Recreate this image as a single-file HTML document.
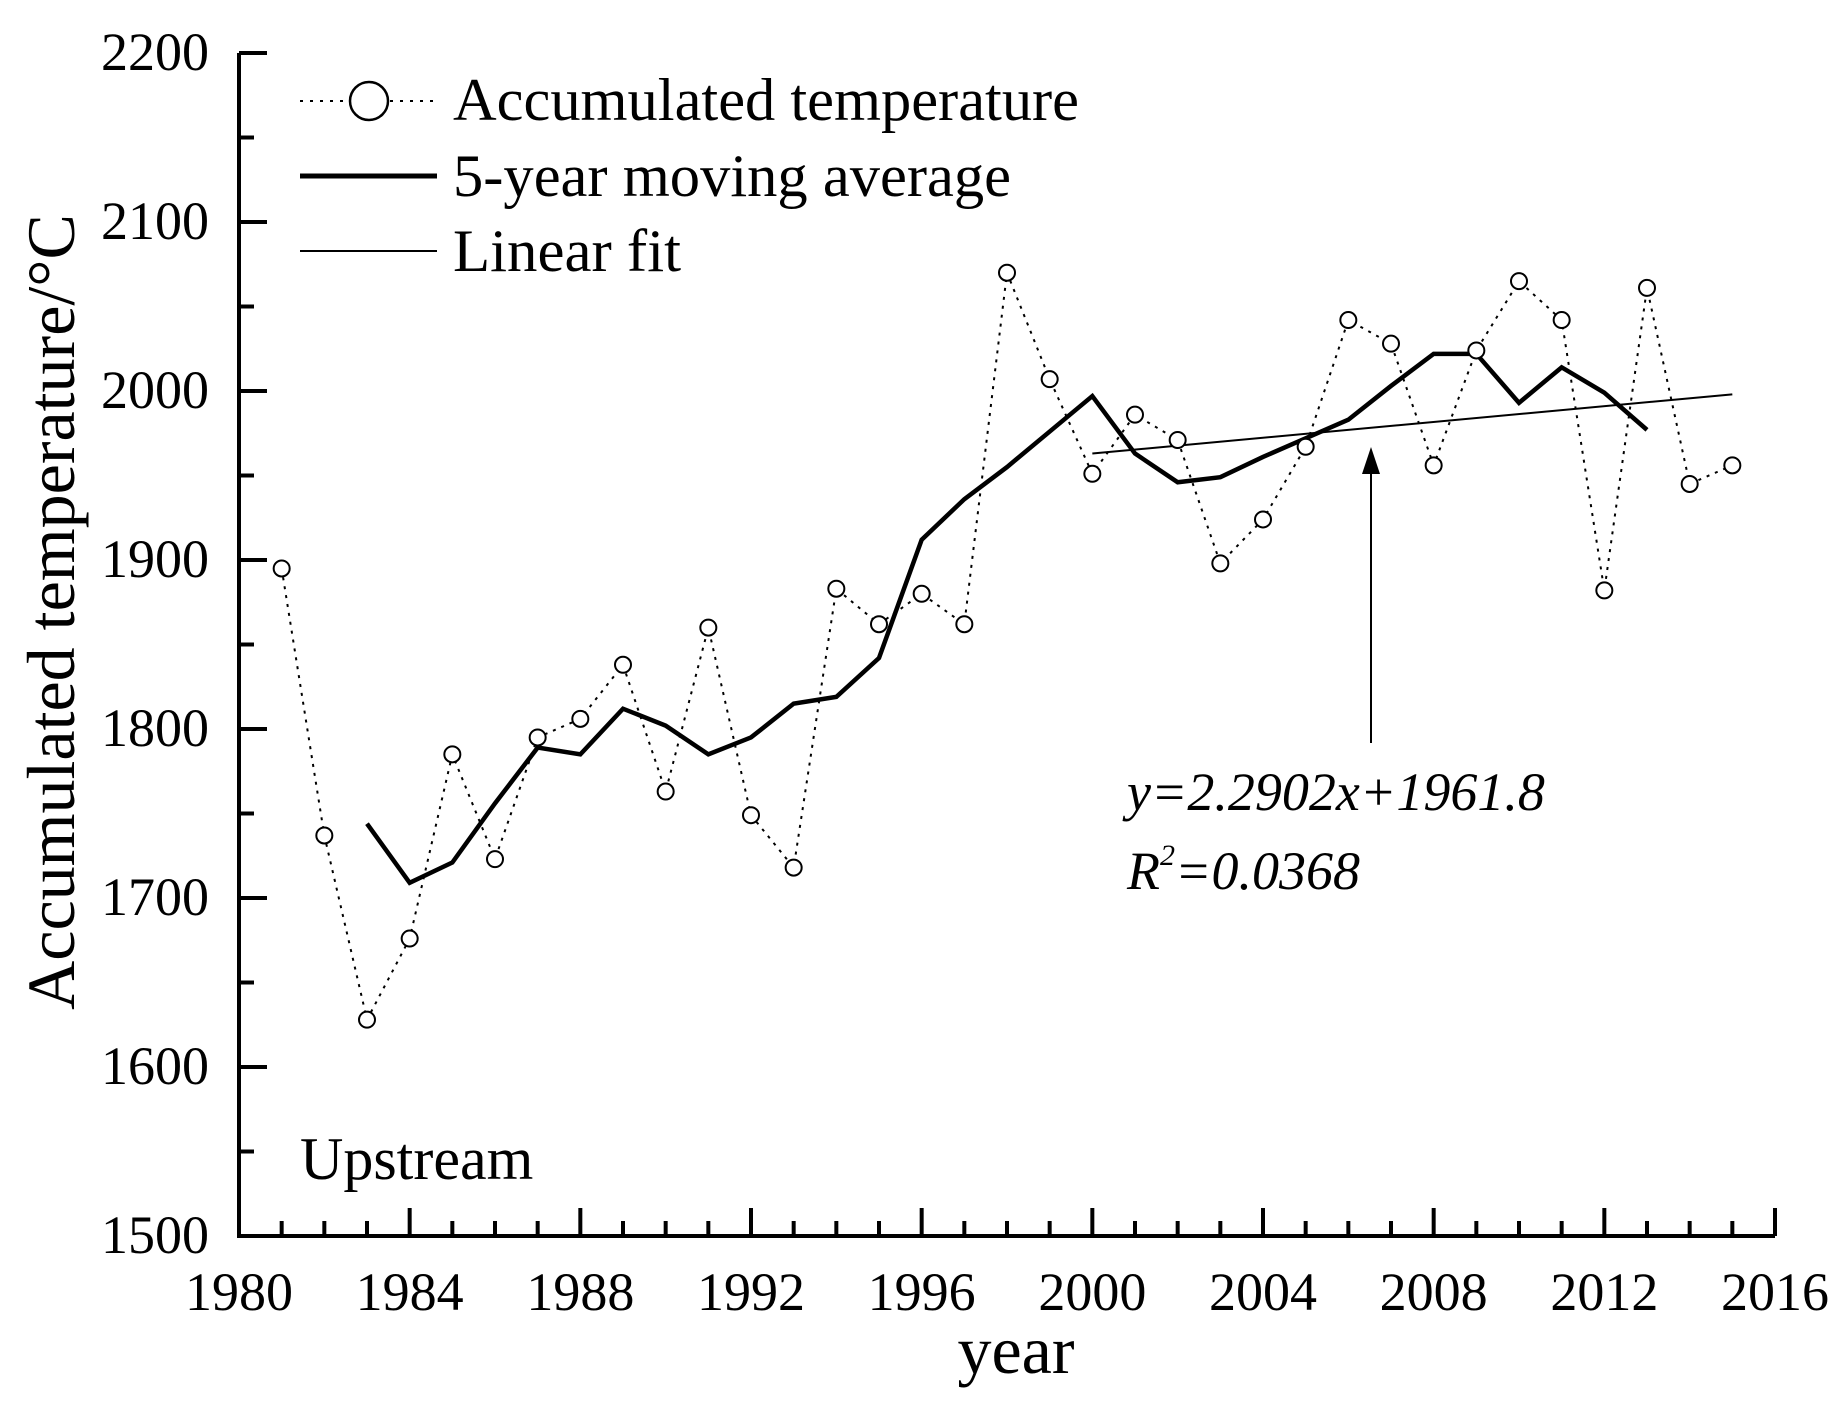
<!DOCTYPE html>
<html><head><meta charset="utf-8"><style>
html,body{margin:0;padding:0;background:#fff}
svg{display:block}
text{font-family:"Liberation Serif",serif;fill:#000}
</style></head><body>
<svg id="chart" width="1844" height="1408" viewBox="0 0 1844 1408">
<g id="axes"></g>
<g id="marks"></g>
<text x="1016" y="1373" font-size="68" text-anchor="middle">year</text>
<text transform="translate(74,612) rotate(-90)" font-size="68" text-anchor="middle">Accumulated temperature/°C</text>
<g>
 <g>
  <line x1="300" y1="101" x2="437" y2="101" stroke="#000" stroke-width="2" stroke-dasharray="3,7"/>
  <circle cx="369" cy="101" r="19" fill="#fff" stroke="#000" stroke-width="2.5"/>
  <text x="453" y="120" font-size="60" textLength="626" lengthAdjust="spacingAndGlyphs">Accumulated temperature</text>
 </g>
 <g>
  <line x1="300" y1="176" x2="437" y2="176" stroke="#000" stroke-width="5"/>
  <text x="453" y="196" font-size="60" textLength="558" lengthAdjust="spacingAndGlyphs">5-year moving average</text>
 </g>
 <g>
  <line x1="300" y1="251" x2="437" y2="251" stroke="#000" stroke-width="2"/>
  <text x="453" y="271" font-size="60" textLength="228" lengthAdjust="spacingAndGlyphs">Linear fit</text>
 </g>
</g>
<text x="300" y="1179" font-size="60">Upstream</text>
<g>
 <line x1="1371" y1="743" x2="1371" y2="470" stroke="#000" stroke-width="2"/>
 <polygon points="1371,447 1362,474 1380,474" fill="#000"/>
 <text x="1127" y="810" font-size="54" font-style="italic">y=2.2902x+1961.8</text>
 <text x="1127" y="889" font-size="54" font-style="italic">R<tspan dy="-24" font-size="30">2</tspan><tspan dy="24">=0.0368</tspan></text>
</g>
</svg>
<script>
const years=[1981,1982,1983,1984,1985,1986,1987,1988,1989,1990,1991,1992,1993,1994,1995,1996,1997,1998,1999,2000,2001,2002,2003,2004,2005,2006,2007,2008,2009,2010,2011,2012,2013,2014,2015];
const temps=[1895,1737,1628,1676,1785,1723,1795,1806,1838,1763,1860,1749,1718,1883,1862,1880,1862,2070,2007,1951,1986,1971,1898,1924,1967,2042,2028,1956,2024,2065,2042,1882,2061,1945,1956];
const maYears=[1983,1984,1985,1986,1987,1988,1989,1990,1991,1992,1993,1994,1995,1996,1997,1998,1999,2000,2001,2002,2003,2004,2005,2006,2007,2008,2009,2010,2011,2012,2013];
const maValues=[1744,1709,1721,1756,1789,1785,1812,1802,1785,1795,1815,1819,1842,1912,1936,1955,1976,1997,1963,1946,1949,1961,1972,1983,2003,2022,2022,1993,2014,1999,1977];
const fitYears=[2000,2015];
const fitValues=[1963,1998];
const xTicks=[1980,1984,1988,1992,1996,2000,2004,2008,2012,2016];
const yTicks=[1500,1600,1700,1800,1900,2000,2100,2200];
const L=239,R=1775,B=1236,T=53;
const X=v=>L+(v-1980)/36*(R-L);
const Y=v=>B-(v-1500)/700*(B-T);
const NS='http://www.w3.org/2000/svg';
function mk(p,tag,a){const e=document.createElementNS(NS,tag);for(const k in a)e.setAttribute(k,a[k]);p.appendChild(e);return e;}
const ax=document.getElementById('axes'),mg=document.getElementById('marks');
let e=mk(ax,'path',{d:`M${L},${T} L${L},${B} L${R},${B}`,fill:'none',stroke:'#000','stroke-width':4});


for(let y=1980;y<=2016;y++){const maj=(y%4===0);const t=mk(ax,'line',{x1:X(y),x2:X(y),y1:B,y2:B-(maj?28:15),stroke:'#000','stroke-width':4});

}
xTicks.forEach(v=>{const t=mk(ax,'text',{x:X(v),y:1310,'font-size':54,'text-anchor':'middle'});t.textContent=v;

});
for(let v=1500;v<=2200;v+=50){const maj=(v%100===0);const t=mk(ax,'line',{x1:L,x2:L+(maj?28:15),y1:Y(v),y2:Y(v),stroke:'#000','stroke-width':4});

}
yTicks.forEach(v=>{const t=mk(ax,'text',{x:209,y:Y(v)+17,'font-size':54,'text-anchor':'end'});t.textContent=v;

});
e=mk(mg,'polyline',{points:years.map((y,i)=>X(y)+','+Y(temps[i])).join(' '),fill:'none',stroke:'#000','stroke-width':2,'stroke-dasharray':'3,6'});


e=mk(mg,'polyline',{points:fitYears.map((y,i)=>X(y)+','+Y(fitValues[i])).join(' '),fill:'none',stroke:'#000','stroke-width':2});


e=mk(mg,'polyline',{points:maYears.map((y,i)=>X(y)+','+Y(maValues[i])).join(' '),fill:'none',stroke:'#000','stroke-width':4.5,'stroke-linejoin':'miter'});


years.forEach((y,i)=>{const c=mk(mg,'circle',{cx:X(y),cy:Y(temps[i]),r:8,fill:'#fff',stroke:'#000','stroke-width':2});

});
</script>
</body></html>
